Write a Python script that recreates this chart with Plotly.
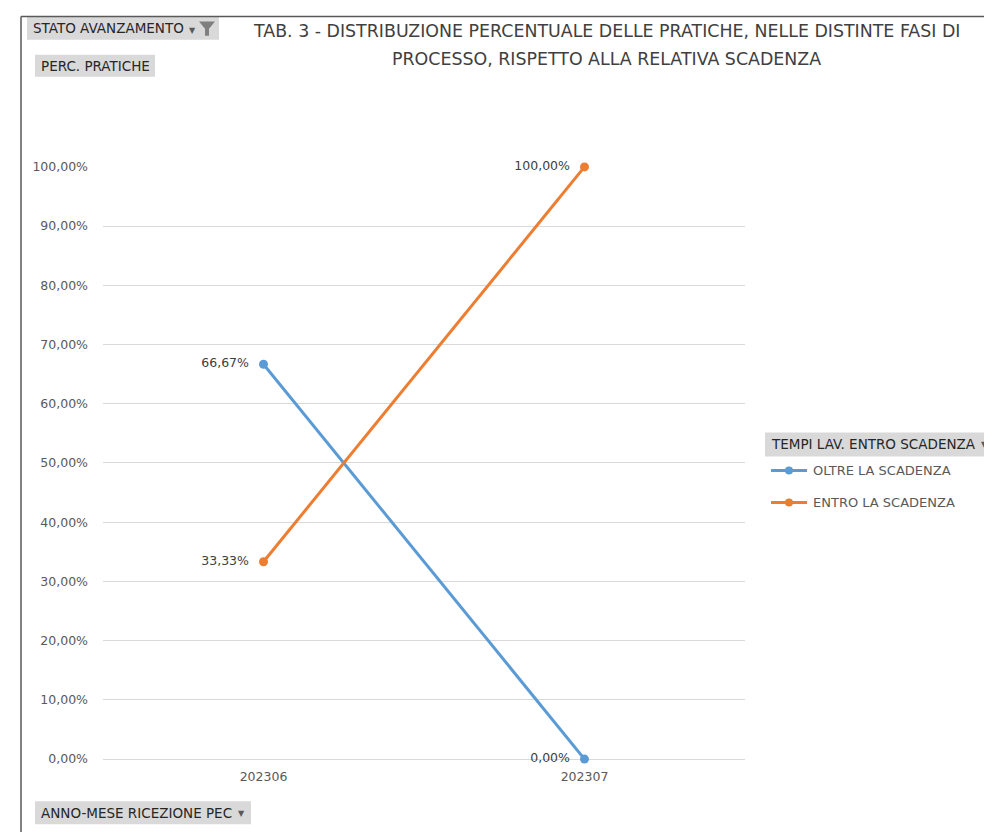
import plotly.graph_objects as go

# ---- data ----
categories = ["202306", "202307"]
oltre = [0.6667, 0.0]
entro = [0.3333, 1.0]
series_names = ["OLTRE LA SCADENZA", "ENTRO LA SCADENZA"]
colors = ["#5B9BD5", "#ED7D31"]
title_lines = ["TAB. 3 - DISTRIBUZIONE PERCENTUALE DELLE PRATICHE, NELLE DISTINTE FASI DI",
               "PROCESSO, RISPETTO ALLA RELATIVA SCADENZA"]

W, H = 992, 832
FONT = "DejaVu Sans"
TXT = "#595959"


def px(x):
    return (x - 8) / W


def py(y):
    p = (y - 16.4) / 0.98
    return 1 - p / H


fig = go.Figure()
xs = list(range(len(categories)))
for name, vals, col in zip(series_names, [oltre, entro], colors):
    fig.add_trace(go.Scatter(
        x=xs, y=vals, name=name, mode="lines+markers+text",
        line=dict(color=col, width=3),
        marker=dict(color=col, size=9),
        texttemplate="%{y:.2%}\u00a0\u00a0", textposition="middle left",
        textfont=dict(family=FONT, size=12.5, color="#404040"),
        cliponaxis=False, showlegend=False,
    ))

shapes = []
annotations = []

# border lines
shapes.append(dict(type="line", xref="paper", yref="paper", x0=px(21), x1=px(21), y0=0.9995, y1=-0.01,
                   line=dict(color="#595959", width=1.5)))
shapes.append(dict(type="line", xref="paper", yref="paper", x0=px(21), x1=1.0, y0=0.9995, y1=0.9995,
                   line=dict(color="#595959", width=1.5)))


def button(x0, y0, x1, y1, text, size=13.5):
    shapes.append(dict(type="rect", xref="paper", yref="paper", x0=px(x0), x1=px(x1), y0=py(y1), y1=py(y0),
                       fillcolor="#d9d9d9", line=dict(width=0), layer="below"))
    annotations.append(dict(xref="paper", yref="paper", x=px(x0 + 4), y=py((y0 + y1) / 2), text=text,
                            showarrow=False, xanchor="left", yanchor="middle",
                            font=dict(family=FONT, size=size, color="#262626")))


def arrow(x, y):
    annotations.append(dict(xref="paper", yref="paper", x=px(x), y=py(y), text="▼", showarrow=False,
                            xanchor="center", yanchor="middle", font=dict(family=FONT, size=8, color="#595959")))


button(27, 17, 219, 40, "STATO AVANZAMENTO")
arrow(192, 31)
shapes.append(dict(type="path", xref="paper", yref="paper",
                   path="M %f,%f L %f,%f L %f,%f L %f,%f L %f,%f L %f,%f Z" % (
                       px(199), py(22), px(215), py(22), px(209), py(29), px(209), py(36),
                       px(205), py(36), px(205), py(29)),
                   fillcolor="#7f7f7f", line=dict(width=0)))
button(35, 55, 155, 77, "PERC. PRATICHE")
button(35, 800, 251, 823, "ANNO-MESE RICEZIONE PEC")
arrow(241, 812)
button(765, 432, 992, 456, "TEMPI LAV. ENTRO SCADENZA")
arrow(984, 444)

# custom legend
for i, (name, col) in enumerate(zip(series_names, colors)):
    yy = 470 + 32 * i
    shapes.append(dict(type="line", xref="paper", yref="paper", x0=px(771), x1=px(807), y0=py(yy), y1=py(yy),
                       line=dict(color=col, width=3)))
    shapes.append(dict(type="circle", xref="paper", yref="paper", x0=px(785), x1=px(793), y0=py(yy + 4),
                       y1=py(yy - 4), fillcolor=col, line=dict(width=0)))
    annotations.append(dict(xref="paper", yref="paper", x=px(811), y=py(yy), text=name, showarrow=False,
                            xanchor="left", yanchor="middle", font=dict(family=FONT, size=13, color=TXT)))

# title
for i, t in enumerate(title_lines):
    annotations.append(dict(xref="paper", yref="paper", x=px(606), y=py(31 + 28 * i), text=t, showarrow=False,
                            xanchor="center", yanchor="middle", font=dict(family=FONT, size=17.4, color="#404040")))

fig.update_layout(
    width=W, height=H, margin=dict(l=0, r=0, t=0, b=0),
    paper_bgcolor="white", plot_bgcolor="white",
    separators=",.",
    shapes=shapes, annotations=annotations, showlegend=False,
    xaxis=dict(domain=[px(103), px(745)], range=[-0.5, len(categories) - 0.5],
               tickmode="array", tickvals=xs, ticktext=categories,
               showgrid=False, zeroline=False, showline=False, ticks="", ticklabelstandoff=8,
               tickfont=dict(family=FONT, size=12.5, color=TXT)),
    yaxis=dict(domain=[py(758), py(167)], range=[0, 1], dtick=0.1, tickformat=".2%",
               showgrid=True, gridcolor="#d9d9d9", gridwidth=1, zeroline=True, zerolinecolor="#d9d9d9",
               zerolinewidth=1, showline=False, ticks="", ticklabelstandoff=14,
               tickfont=dict(family=FONT, size=12.5, color=TXT)),
)

fig.write_html("out.html")
